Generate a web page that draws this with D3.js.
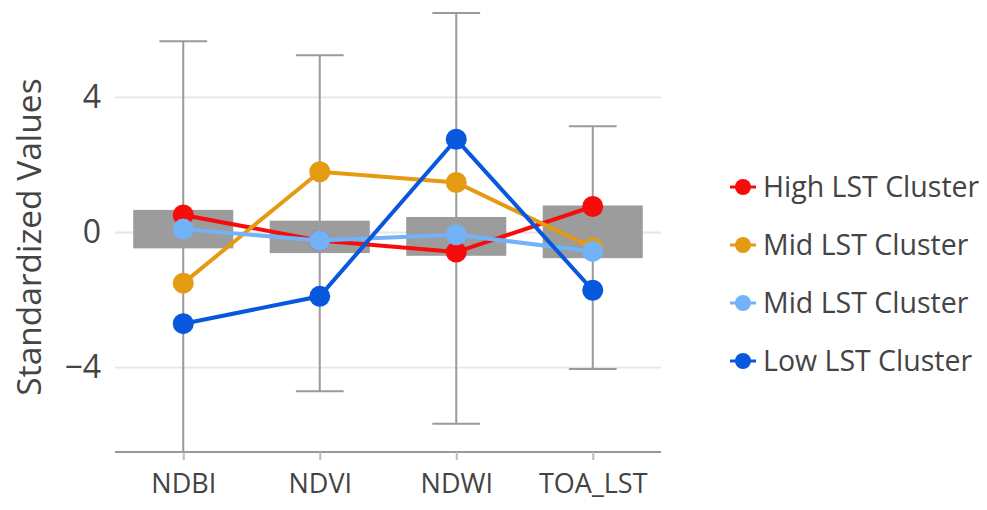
<!DOCTYPE html>
<html>
<head>
<meta charset="utf-8">
<script src="https://cdnjs.cloudflare.com/ajax/libs/d3/7.8.5/d3.min.js"></script>
<style>
  body { margin: 0; background: #fff; }
  svg text { font-family: "Open Sans", "Noto Sans", sans-serif; fill: #444; }
</style>
</head>
<body>
<script>

// categories on the x axis
var categories = ["NDBI", "NDVI", "NDWI", "TOA_LST"];

// whisker ends and box (grey band) per category
var whiskerTop = [5.66, 5.25, 6.5, 3.15];
var whiskerBottom = [-7.2, -4.7, -5.66, -4.04];
var boxTop = [0.67, 0.35, 0.46, 0.8];
var boxBottom = [-0.47, -0.61, -0.69, -0.76];

// cluster lines
var seriesNames = ["High LST Cluster", "Mid LST Cluster", "Mid LST Cluster", "Low LST Cluster"];
var highValues = [0.52, -0.24, -0.58, 0.77];
var midValues = [-1.5, 1.8, 1.48, -0.45];
var mid2Values = [0.1, -0.24, -0.07, -0.56];
var lowValues = [-2.7, -1.89, 2.76, -1.71];
var seriesColors = ["#f70c0c", "#e49b12", "#72b2f7", "#0758dc"];

var yTicks = [-4, 0, 4];

var width = 987, height = 510;
var margin = { top: 13, right: 326, bottom: 58, left: 115 };

var svg = d3.select("body").append("svg")
    .attr("width", width)
    .attr("height", height);

var x = d3.scalePoint()
    .domain(categories)
    .range([margin.left, width - margin.right])
    .padding(0.5);

var y = d3.scaleLinear()
    .domain([-6.5, 6.5])
    .range([height - margin.bottom, margin.top]);

var boxWidth = x.step() * 0.733;
var capWidth = x.step() * 0.35;

// clip so the NDBI whisker stops at the axis
svg.append("defs").append("clipPath").attr("id", "plotclip")
    .append("rect")
    .attr("x", margin.left)
    .attr("y", 0)
    .attr("width", width - margin.right - margin.left)
    .attr("height", y(-6.5));

// gridlines
svg.append("g")
    .selectAll("line")
    .data(yTicks)
    .enter().append("line")
    .attr("x1", margin.left)
    .attr("x2", width - margin.right)
    .attr("y1", function (d) { return y(d); })
    .attr("y2", function (d) { return y(d); })
    .attr("stroke", "#e6e6e6")
    .attr("stroke-width", 1.8);

// y axis labels
var yAxis = d3.axisLeft(y)
    .tickValues(yTicks)
    .tickSize(0)
    .tickPadding(14)
    .tickFormat(function (d) { return d < 0 ? "\u2212" + Math.abs(d) : d; });

var yg = svg.append("g")
    .attr("transform", "translate(" + margin.left + ",0)")
    .call(yAxis);
yg.select(".domain").remove();
yg.selectAll("text").style("font-size", "32px").attr("fill", "#444");

svg.append("text")
    .attr("transform", "translate(41," + 237 + ") rotate(-90)")
    .attr("text-anchor", "middle")
    .style("font-size", "33.5px")
    .attr("fill", "#505050")
    .text("Standardized Values");

var plot = svg.append("g").attr("clip-path", "url(#plotclip)");

// whiskers
var whiskers = plot.selectAll(".whisker")
    .data(categories)
    .enter().append("g")
    .attr("class", "whisker");

whiskers.append("line")
    .attr("x1", function (d) { return x(d); })
    .attr("x2", function (d) { return x(d); })
    .attr("y1", function (d, i) { return y(whiskerTop[i]); })
    .attr("y2", function (d, i) { return y(whiskerBottom[i]); })
    .attr("stroke", "#9a9a9a")
    .attr("stroke-width", 2);

whiskers.append("line")
    .attr("x1", function (d) { return x(d) - capWidth / 2; })
    .attr("x2", function (d) { return x(d) + capWidth / 2; })
    .attr("y1", function (d, i) { return y(whiskerTop[i]); })
    .attr("y2", function (d, i) { return y(whiskerTop[i]); })
    .attr("stroke", "#9a9a9a")
    .attr("stroke-width", 2);

whiskers.append("line")
    .attr("x1", function (d) { return x(d) - capWidth / 2; })
    .attr("x2", function (d) { return x(d) + capWidth / 2; })
    .attr("y1", function (d, i) { return y(whiskerBottom[i]); })
    .attr("y2", function (d, i) { return y(whiskerBottom[i]); })
    .attr("stroke", "#9a9a9a")
    .attr("stroke-width", 2);

// boxes
plot.selectAll(".box")
    .data(categories)
    .enter().append("rect")
    .attr("class", "box")
    .attr("x", function (d) { return x(d) - boxWidth / 2; })
    .attr("width", boxWidth)
    .attr("y", function (d, i) { return y(boxTop[i]); })
    .attr("height", function (d, i) { return y(boxBottom[i]) - y(boxTop[i]); })
    .attr("fill", "#9c9c9c");

// x axis
var xAxis = d3.axisBottom(x).tickSize(8).tickPadding(14).tickSizeOuter(0);
var xg = svg.append("g")
    .attr("transform", "translate(0," + y(-6.5) + ")")
    .call(xAxis);
xg.select(".domain").attr("stroke", "#999").attr("stroke-width", 2)
    .attr("d", "M" + margin.left + ",0H" + (width - margin.right));
xg.selectAll(".tick line").attr("stroke", "#bbb").attr("stroke-width", 2);
xg.selectAll("text").style("font-size", "27px").attr("fill", "#444");

// cluster lines
var allSeries = [highValues, midValues, mid2Values, lowValues];
var line = d3.line()
    .x(function (d, i) { return x(categories[i]); })
    .y(function (d) { return y(d); });

allSeries.forEach(function (vals, s) {
    var g = svg.append("g");
    g.append("path")
        .datum(vals)
        .attr("d", line)
        .attr("fill", "none")
        .attr("stroke", seriesColors[s])
        .attr("stroke-width", 4);
    g.selectAll("circle")
        .data(vals)
        .enter().append("circle")
        .attr("cx", function (d, i) { return x(categories[i]); })
        .attr("cy", function (d) { return y(d); })
        .attr("r", 10.5)
        .attr("fill", seriesColors[s]);
});

// legend
var legend = svg.append("g")
    .selectAll("g")
    .data(seriesNames)
    .enter().append("g")
    .attr("transform", function (d, i) { return "translate(743," + (187 + i * 58) + ")"; });

legend.append("line")
    .attr("x1", -13).attr("x2", 13)
    .attr("stroke", function (d, i) { return seriesColors[i]; })
    .attr("stroke-width", 3);
legend.append("circle")
    .attr("r", 8)
    .attr("fill", function (d, i) { return seriesColors[i]; });
legend.append("text")
    .attr("x", 20)
    .attr("dy", "0.36em")
    .style("font-size", "28.5px")
    .text(function (d) { return d; });

</script>
</body>
</html>
